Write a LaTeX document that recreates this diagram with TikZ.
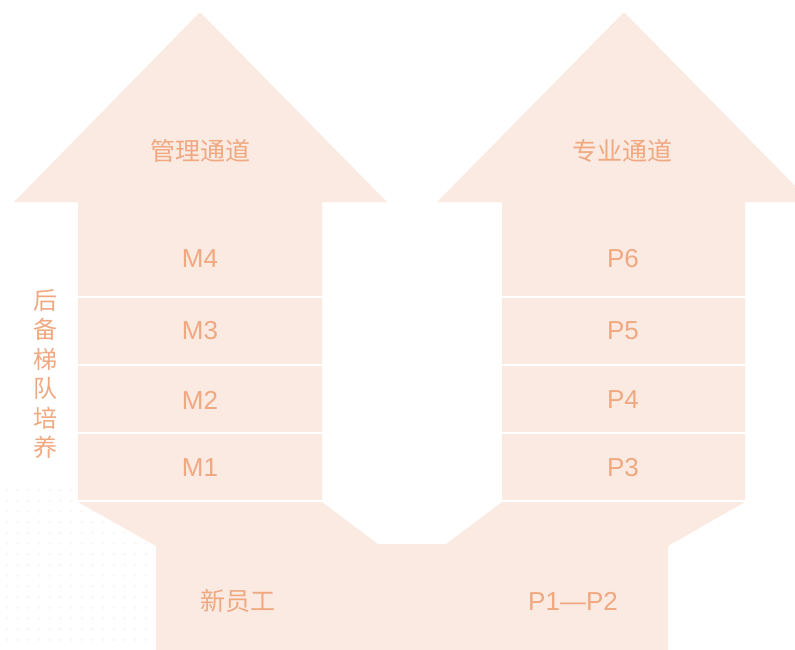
\documentclass[tikz,border=0pt]{standalone}
\usepackage{fontspec}
\setmainfont{Liberation Sans}
\newfontfamily\cjk{Noto Sans CJK SC}
\usetikzlibrary{positioning}
\definecolor{peach}{RGB}{250,234,226}
\definecolor{salmon}{RGB}{240,168,128}
\definecolor{dotpink}{RGB}{253,243,243}
\tikzset{
  band/.style={fill=peach},
  gap/.style={draw=white,line width=2pt},
  title/.style={text=salmon,font=\cjk\fontsize{25}{28}\selectfont},
  grade/.style={text=salmon,font=\fontsize{26}{28}\selectfont},
  side/.style={text=salmon,font=\cjk\fontsize{24}{29.5}\selectfont,align=center},
}

\begin{document}
\begin{tikzpicture}[x=1pt,y=-1pt]
  \useasboundingbox (0,0) rectangle (795,649);
  \clip (0,0) rectangle (795,649);
  % dot grid, bottom left
  \foreach \i in {0,...,13}
    \foreach \j in {0,...,14}
      \fill[dotpink] (7+10.7*\i,490+10.7*\j) circle (1.5);
  % management arrow
  \fill[band] (200,12) -- (387,202) -- (322,202) -- (322,501) -- (78,501) -- (78,202) -- (14,202) -- cycle;
  % professional arrow
  \fill[band] (624,12) -- (811,202) -- (745,202) -- (745,501) -- (502,501) -- (502,202) -- (437,202) -- cycle;
  % common base
  \fill[band] (78,502) -- (322,502) -- (378,544) -- (446,544) -- (502,502) -- (745,502)
    -- (668,546) -- (668,660) -- (156,660) -- (156,546) -- cycle;
  \foreach \y in {297,365,433,501} {
    \draw[gap] (78,\y) -- (322,\y);
    \draw[gap] (502,\y) -- (745,\y);
  }
  \node[title] (mgmt) at (200,151) {管理通道};
  \node[title] (prof) at (622,151) {专业通道};
  \node[grade] (m4) at (200,259) {M4};
  \node[grade] (m3) at (200,331) {M3};
  \node[grade] (m2) at (200,400) {M2};
  \node[grade] (m1) at (200,468) {M1};
  \node[grade] (p6) at (623,259) {P6};
  \node[grade] (p5) at (623,331) {P5};
  \node[grade] (p4) at (623,400) {P4};
  \node[grade] (p3) at (623,468) {P3};
  \node[title] (newhire) at (238,601) {新员工};
  \node[grade] (p12) at (573,601) {P1—P2};
  \node[side] (reserve) at (45,374) {后\\备\\梯\\队\\培\\养};
\end{tikzpicture}
\end{document}
